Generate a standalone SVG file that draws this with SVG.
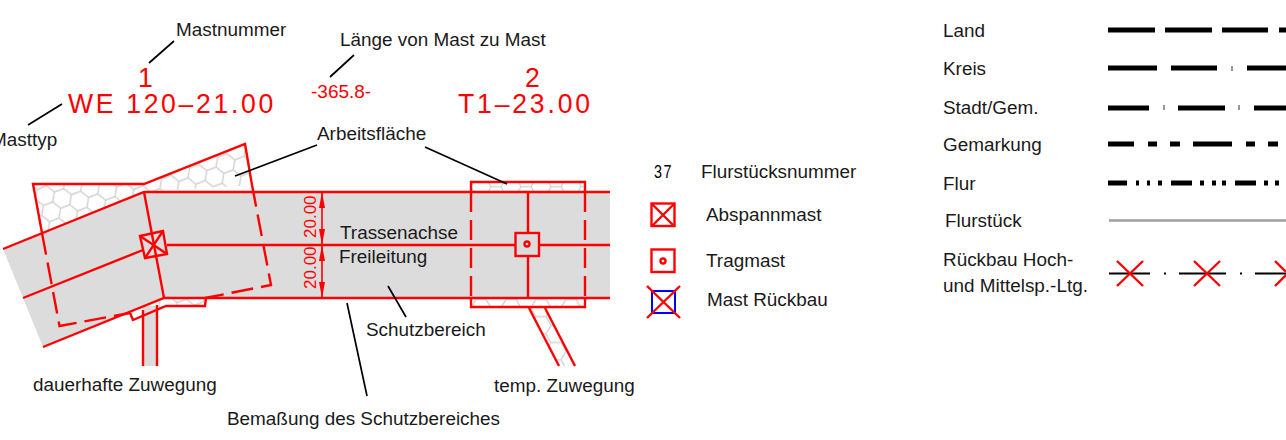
<svg xmlns="http://www.w3.org/2000/svg" width="1286" height="440" viewBox="0 0 1286 440">
<style>
text{font-family:"Liberation Sans",Arial,sans-serif;font-size:18.9px;fill:#1a1a1a}
.red{fill:#ff0000}
.cad{fill:#ff0000;font-size:28px;font-family:"Liberation Sans",Arial,sans-serif}
.r{fill:none;stroke:#ff0000;stroke-width:2.4}
.k{fill:none;stroke:#000;stroke-width:1.7}
.b{stroke:#000;stroke-width:5;fill:none}
.x{stroke:#ff0000;stroke-width:2.4;fill:none}
</style>
<defs>
<pattern id="hexL" width="30" height="17.32" patternUnits="userSpaceOnUse" patternTransform="rotate(-21 33 184)">
<path d="M0,8.66L5,0H15L20,8.66L15,17.32H5ZM20,8.66H30" fill="none" stroke="#cfcfcf" stroke-width="1.4"/>
</pattern>
<pattern id="hexR" width="30" height="17.32" patternUnits="userSpaceOnUse" patternTransform="translate(471 178)">
<path d="M0,8.66L5,0H15L20,8.66L15,17.32H5ZM20,8.66H30" fill="none" stroke="#d2d2d2" stroke-width="1.4"/>
</pattern>
</defs>

<g id="hatch">
<polygon points="33,184 144,184 245,144 252,185 144,192 42,233" fill="url(#hexL)"/>
<polygon points="130,313 133,320 166,306 205,306 206,298 164,298" fill="url(#hexL)"/>
<rect x="471" y="182" width="114" height="10" fill="url(#hexR)"/>
<rect x="471" y="298" width="114" height="9" fill="url(#hexR)"/>
<polygon points="529,308 545,308 575,366 559,366" fill="url(#hexR)"/>
</g>
<g id="schutzbereich">
<polygon points="3,249 144,192 610,192 610,298 164,298 43,347" fill="#dcdcdc"/>
<rect x="143" y="306" width="14" height="60" fill="#dcdcdc"/>
</g>

<g id="connectors">
<path class="r" d="M3,249L144,192H610M43,347L164,298H610M23,298L143,250M167,245H515M539,245H610M144,192L164,298"/>
<path class="r" d="M143,310V366M157,305V366"/>
<path class="r" d="M42,233L33,184H144L245,144L252,185"/>
<path class="r" stroke-dasharray="22 8" d="M42,233L59.500,326L130,313"/>
<path class="r" stroke-dasharray="22 8" d="M252,185L271,285L205,298"/>
<path class="r" d="M130,313L133,320L166,306H205L206,298"/>
<path class="r" d="M471,192V182H585V192M471,298V307H585V298"/>
<path class="r" d="M471,192V298M585,192V298" stroke-dasharray="20 8"/>
<path class="r" d="M528,192V233M528,256V298"/>
<path class="r" d="M529,308L559,366M545,308L575,366"/>
<path d="M322,192V298" stroke="#ff0000" stroke-width="1.6" fill="none"/>
<path d="M322,192l-3,16h6ZM322,245l-3,-16h6ZM322,245l-3,16h6ZM322,298l-3,-16h6Z" fill="#ff0000"/>
<path class="k" d="M149,63L174,41M330,77L354,55M28,125L62,104M235,176L317,145M425,147L507,184M388,286L406,317M347,303L367,396"/>
</g>

<g id="mast-1">
<polygon class="r" points="140,236 163,231 167,254 145,258" fill="#dcdcdc"/>
<path class="r" d="M140,236L167,254M163,231L145,258"/>
</g>
<g id="mast-2">
<rect class="r" x="515.500" y="233" width="23.500" height="23" fill="#dcdcdc"/>
<circle class="r" cx="527" cy="244" r="2.500"/>
</g>

<g id="labels">
<text x="176" y="36">Mastnummer</text>
<text x="340" y="46">Länge von Mast zu Mast</text>
<text x="-9" y="146">Masttyp</text>
<text x="317" y="140">Arbeitsfläche</text>
<text x="340" y="239">Trassenachse</text>
<text x="339" y="263">Freileitung</text>
<text x="366" y="336">Schutzbereich</text>
<text x="33" y="391">dauerhafte Zuwegung</text>
<text x="494" y="392">temp. Zuwegung</text>
<text x="227" y="425">Bemaßung des Schutzbereiches</text>
<text class="cad" transform="translate(138 87) scale(.95 1)">1</text>
<text class="cad" transform="translate(68 113) scale(.95 1)" textLength="216" lengthAdjust="spacing" xml:space="preserve">WE 120–21.00</text>
<text class="cad" transform="translate(525 87) scale(.95 1)">2</text>
<text class="cad" transform="translate(458 113) scale(.95 1)" textLength="139" lengthAdjust="spacing">T1–23.00</text>
<text class="red" x="311" y="98" style="font-size:19px">-365.8-</text>
<text class="red" transform="translate(316 238) rotate(-90)" style="font-size:17px">20.00</text>
<text class="red" transform="translate(316 289) rotate(-90)" style="font-size:17px">20.00</text>
</g>

<g id="legend-mast">
<text transform="translate(654 178) scale(.8 1)" textLength="22" lengthAdjust="spacing" style="fill:#000;font-size:18px">37</text>
<text x="701" y="178">Flurstücksnummer</text>
<rect class="r" x="651.500" y="203.500" width="23" height="22.500"/>
<path class="x" d="M652,204L674,226M674,204L652,226"/>
<text x="706" y="221">Abspannmast</text>
<rect class="r" x="651.500" y="249.500" width="23" height="22.500"/>
<circle class="r" cx="663" cy="261" r="2.500"/>
<text x="706" y="267">Tragmast</text>
<rect x="652" y="291" width="23" height="22" fill="none" stroke="#0000ff" stroke-width="2"/>
<path class="r" d="M647,286L680,318M680,286L647,318"/>
<text x="707" y="306">Mast Rückbau</text>
</g>

<g id="legend-lines">
<text x="943" y="37">Land</text>
<path class="b" d="M1108,30H1155M1165,30H1212M1222,30H1268M1279,30H1286"/>
<text x="943" y="75">Kreis</text>
<path class="b" d="M1108,68H1157M1171,68H1217M1247,68H1286"/>
<path d="M1232,66V71" stroke="#333" stroke-width="1" fill="none"/>
<text x="943" y="114">Stadt/Gem.</text>
<path class="b" d="M1108,108H1149M1178,108H1225M1254,108H1286"/>
<path d="M1164,105V110M1239,105V110" stroke="#333" stroke-width="1" fill="none"/>
<text x="943" y="151">Gemarkung</text>
<path class="b" d="M1108,144H1134M1148,144H1157M1170,144H1180M1193,144H1232M1246,144H1255M1268,144H1278"/>
<text x="943" y="190">Flur</text>
<path class="b" stroke-width="4" d="M1108,183H1127M1136,183H1139M1147,183H1150M1158,183H1162M1171,183H1192M1200,183H1204M1212,183H1216M1222,183H1226M1235,183H1256M1264,183H1268M1275,183H1279"/>
<text x="945" y="227">Flurstück</text>
<path d="M1109,220.500H1286" stroke="#a0a0a0" stroke-width="2.500" fill="none"/>
<text x="943" y="266">Rückbau Hoch-</text>
<text x="943" y="292">und Mittelsp.-Ltg.</text>
<path d="M1109,273.500H1150M1179,273.500H1226M1255,273.500H1286" stroke="#000" stroke-width="1.800" fill="none"/>
<path d="M1164,273.500h2M1240,273.500h2" stroke="#000" stroke-width="2" fill="none"/>
<path class="x" d="M1117,261L1143,286M1143,261L1117,286M1194,261L1220,286M1220,261L1194,286M1275,261L1286,272M1275,286L1286,275"/>
</g>
</svg>
